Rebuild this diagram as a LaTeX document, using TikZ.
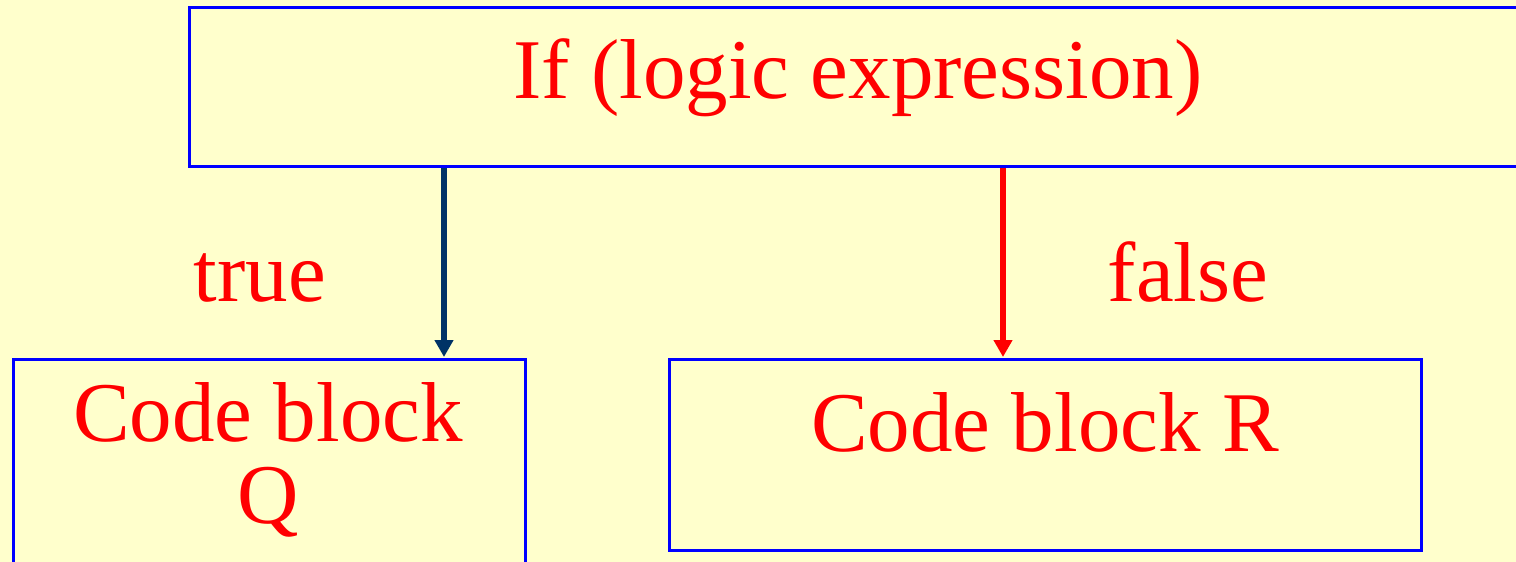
\documentclass[tikz,border=0pt]{standalone}
\usepackage{fontspec}
\setmainfont{Liberation Serif}
\usetikzlibrary{arrows.meta}
\definecolor{bg}{HTML}{FFFFCC}
\definecolor{boxblue}{HTML}{0000FF}
\definecolor{navy}{HTML}{003366}
\definecolor{txtred}{HTML}{FF0000}
\tikzset{
  box/.style={draw=boxblue, line width=1.5pt, inner sep=0pt, anchor=north west},
  lbl/.style={text=txtred, font=\fontsize{42.5pt}{48pt}\selectfont, inner sep=0pt, anchor=base},
  arr/.style={line width=3pt, -{Triangle[width=9pt,length=8.5pt]}}
}
\begin{document}
\begin{tikzpicture}[x=0.5pt,y=-0.5pt]
\fill[bg] (0,0) rectangle (1516,562);
\useasboundingbox (0,0) rectangle (1516,562);
\clip (0,0) rectangle (1516,562);
\node[box, minimum width=676pt, minimum height=79.5pt] (ifbox) at (188,6) {};
\node[box, minimum width=256pt, minimum height=110pt] (qbox) at (12,358) {};
\node[box, minimum width=376pt, minimum height=95.5pt] (rbox) at (668,358) {};
\node[lbl] (iftxt) at (858,98) {If (logic expression)};
\node[lbl] (truetxt) at (260,301) {true};
\node[lbl] (falsetxt) at (1188,301) {false};
\node[lbl] (q1) at (268,441) {Code block};
\node[lbl] (q2) at (268,523) {Q};
\node[lbl] (rtxt) at (1045,451) {Code block R};
\draw[arr, navy] ([xshift=128pt]ifbox.south west) -- ([xshift=216pt,yshift=0.5pt]qbox.north west);
\draw[arr, txtred] ([xshift=407.5pt]ifbox.south west) -- ([xshift=167.5pt,yshift=0.5pt]rbox.north west);
\end{tikzpicture}
\end{document}
